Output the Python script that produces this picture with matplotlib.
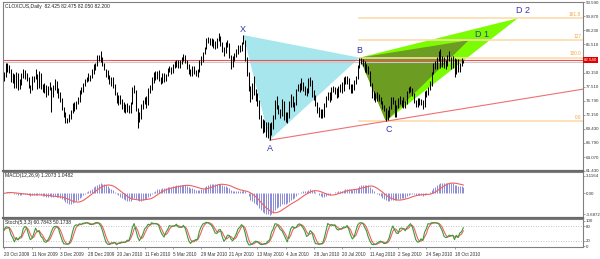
import numpy as np
import pandas as pd
import matplotlib
matplotlib.use("Agg")
import matplotlib.pyplot as plt
from matplotlib.transforms import blended_transform_factory

plt.rcParams["font.family"] = ["Liberation Sans", "DejaVu Sans"]

symbol = "CLOXCUS,Daily"
last_ohlc = "82.425 82.475 82.050 82.200"

# daily bars (one value per bar)
closes = [
    79.6, 81.4, 81.2, 80.5, 78.7, 79.6, 77.5, 79.9, 77.0, 78.1,
    79.6, 80.4, 79.6, 79.2, 77.5, 76.9, 79.2, 79.1, 79.6, 77.5,
    79.9, 77.5, 76.7, 77.6, 76.0, 77.2, 78.0, 76.1, 77.3, 78.4,
    76.6, 76.0, 75.0, 73.4, 72.4, 71.0, 70.8, 71.5, 72.7, 73.9,
    73.5, 74.4, 74.8, 76.7, 76.6, 78.0, 78.8, 78.9, 79.4, 79.4,
    80.5, 81.5, 81.8, 83.2, 82.7, 82.8, 81.9, 80.8, 79.7, 79.4,
    78.0, 79.0, 77.6, 76.0, 74.5, 75.3, 74.7, 73.7, 73.6, 72.9,
    73.5, 72.9, 74.4, 77.2, 76.9, 73.1, 71.2, 71.9, 73.8, 74.5,
    75.3, 74.1, 77.0, 77.3, 79.1, 79.1, 79.8, 80.2, 78.9, 78.2,
    79.7, 78.7, 79.7, 80.9, 80.9, 80.3, 81.5, 81.9, 82.1, 81.5,
    82.1, 82.9, 83.2, 82.3, 81.2, 80.3, 80.0, 81.0, 80.0, 79.9,
    80.5, 82.2, 82.4, 83.8, 84.9, 86.2, 86.6, 85.9, 86.2, 85.6,
    85.3, 86.5, 87.0, 85.8, 84.3, 84.0, 85.8, 85.5, 83.2, 82.0,
    82.5, 83.7, 83.9, 85.1, 84.2, 85.8, 86.2, 82.7, 80.0, 77.1,
    75.1, 76.8, 76.4, 75.7, 74.4, 71.6, 70.1, 69.4, 69.9, 68.0,
    70.0, 68.8, 70.2, 71.5, 74.6, 74.0, 72.6, 72.9, 74.6, 71.5,
    71.4, 71.9, 74.4, 75.5, 73.8, 74.1, 76.9, 77.7, 76.8, 77.8,
    77.2, 76.4, 76.5, 78.9, 78.3, 75.9, 75.6, 74.2, 73.0, 72.1,
    72.4, 72.0, 74.1, 75.4, 76.1, 74.9, 77.1, 77.0, 76.6, 76.0,
    77.0, 77.6, 76.8, 78.9, 78.6, 78.8, 77.5, 76.6, 77.3, 78.4,
    79.0, 81.3, 82.6, 82.5, 82.0, 80.7, 81.5, 80.3, 78.0, 75.7,
    75.4, 75.2, 75.8, 75.4, 74.4, 73.5, 73.1, 71.6, 72.5, 73.4,
    75.2, 74.7, 71.9, 73.9, 74.9, 74.6, 74.1, 74.7, 74.3, 76.5,
    77.2, 76.8, 76.0, 74.6, 73.7, 74.9, 74.2, 74.7, 73.5, 76.5,
    76.2, 77.2, 77.9, 80.0, 81.6, 81.5, 82.8, 83.2, 81.7, 82.7,
    81.9, 81.7, 83.0, 82.7, 81.3, 83.1, 79.8, 82.5, 80.6, 81.7,
    82.4, 82.2,
]
highs = [
    80.2, 82.0, 81.9, 81.6, 80.8, 80.0, 79.9, 80.3, 80.0, 78.9,
    80.0, 80.9, 80.6, 80.1, 79.4, 77.8, 79.5, 79.6, 80.8, 79.8,
    80.5, 80.0, 77.9, 78.2, 77.8, 77.6, 78.4, 77.5, 77.8, 78.9,
    78.6, 77.2, 76.4, 75.3, 73.6, 72.6, 71.6, 72.2, 73.0, 74.3,
    74.5, 74.8, 75.6, 76.9, 77.4, 78.2, 79.0, 79.4, 80.0, 79.7,
    80.8, 81.7, 82.0, 83.5, 83.5, 84.3, 83.2, 82.0, 80.9, 80.7,
    79.7, 79.3, 79.4, 77.9, 76.4, 75.9, 75.9, 75.1, 74.5, 74.2,
    74.3, 73.9, 74.6, 77.4, 77.8, 76.9, 73.4, 72.7, 74.2, 74.9,
    75.6, 75.7, 77.3, 77.8, 79.4, 80.2, 80.5, 80.5, 80.6, 79.3,
    80.0, 80.1, 79.9, 81.1, 81.5, 81.3, 81.7, 82.3, 82.6, 82.6,
    82.5, 83.2, 83.7, 83.5, 82.6, 81.8, 80.9, 81.5, 81.5, 80.6,
    80.9, 82.5, 83.3, 84.0, 85.0, 86.8, 87.0, 86.8, 86.7, 86.6,
    86.1, 86.8, 87.6, 87.2, 86.0, 85.0, 86.0, 86.3, 85.7, 83.5,
    83.4, 83.9, 84.7, 85.4, 85.5, 86.0, 87.3, 86.4, 83.2, 80.3,
    77.6, 78.2, 79.6, 77.0, 76.3, 74.9, 72.0, 71.3, 71.2, 70.8,
    70.8, 70.6, 70.8, 72.0, 74.9, 75.7, 74.0, 73.3, 75.1, 74.7,
    72.6, 72.6, 74.7, 76.0, 75.7, 74.5, 77.1, 78.0, 78.1, 79.2,
    78.4, 77.6, 77.2, 79.2, 79.4, 78.8, 76.8, 75.8, 74.6, 73.6,
    73.2, 73.2, 74.4, 75.7, 76.5, 76.4, 77.5, 77.6, 77.4, 77.2,
    77.6, 78.0, 78.3, 79.3, 79.5, 79.5, 79.1, 77.9, 77.9, 78.8,
    79.5, 81.6, 83.0, 82.9, 82.8, 82.3, 81.7, 81.5, 80.4, 78.2,
    76.6, 76.2, 76.4, 76.1, 75.6, 74.8, 74.0, 73.4, 73.0, 73.8,
    75.5, 75.6, 74.9, 74.0, 75.3, 75.7, 75.0, 75.5, 74.8, 76.6,
    77.4, 77.7, 77.2, 76.3, 75.0, 75.3, 75.4, 75.2, 74.9, 76.7,
    76.9, 77.5, 78.5, 80.2, 82.0, 82.3, 83.2, 84.2, 84.6, 83.3,
    83.2, 82.5, 83.5, 84.3, 83.1, 83.3, 83.0, 82.8, 82.7, 82.0,
    82.9, 82.5,
]
lows = [
    78.6, 79.3, 80.3, 80.0, 78.4, 78.2, 77.2, 77.3, 76.8, 77.0,
    77.8, 79.2, 79.0, 78.5, 77.2, 76.3, 76.8, 78.3, 78.9, 77.0,
    77.2, 77.1, 76.4, 76.3, 75.6, 75.8, 76.9, 72.6, 75.5, 76.9,
    76.2, 75.3, 74.6, 73.0, 71.7, 70.6, 70.5, 70.7, 71.3, 72.5,
    72.8, 73.2, 74.1, 74.5, 76.0, 76.5, 77.6, 78.3, 78.5, 78.6,
    79.2, 79.9, 80.6, 81.5, 82.4, 82.1, 81.4, 80.6, 79.4, 78.9,
    77.9, 77.7, 77.3, 75.8, 74.3, 74.0, 74.1, 73.3, 72.7, 72.4,
    72.7, 72.4, 72.5, 74.2, 76.3, 72.9, 69.6, 70.7, 71.3, 73.2,
    74.1, 73.4, 74.0, 76.2, 76.8, 78.2, 78.7, 79.0, 78.5, 77.9,
    78.2, 78.3, 78.5, 79.6, 80.2, 79.8, 80.0, 81.1, 81.2, 81.0,
    81.0, 81.7, 82.4, 82.0, 80.9, 79.9, 79.6, 79.5, 79.8, 79.5,
    79.4, 80.3, 81.6, 82.2, 83.6, 84.6, 85.8, 85.4, 85.2, 84.9,
    84.7, 84.8, 86.1, 85.2, 84.1, 83.3, 83.8, 85.0, 83.0, 80.9,
    81.2, 82.3, 83.1, 83.6, 84.0, 84.2, 85.6, 82.3, 79.6, 76.7,
    74.6, 75.2, 75.8, 74.8, 73.8, 71.3, 69.6, 68.6, 68.8, 67.9,
    67.8, 67.3, 68.2, 69.4, 71.3, 73.2, 72.2, 71.5, 71.9, 71.2,
    70.8, 70.6, 71.5, 73.6, 73.6, 72.9, 73.9, 76.6, 76.4, 76.9,
    76.7, 75.9, 75.7, 76.3, 77.6, 75.6, 75.0, 73.8, 72.5, 71.7,
    71.6, 71.5, 71.8, 73.7, 75.0, 74.5, 75.0, 76.4, 76.0, 75.3,
    75.6, 76.4, 76.2, 76.6, 78.0, 78.0, 77.0, 76.2, 76.3, 76.8,
    78.0, 78.9, 81.1, 81.8, 81.4, 80.2, 80.1, 79.9, 77.7, 75.4,
    75.0, 74.6, 74.8, 74.8, 74.1, 73.2, 72.8, 70.9, 71.2, 71.8,
    73.2, 74.2, 71.8, 71.7, 73.5, 74.1, 73.7, 73.5, 73.5, 74.2,
    76.2, 76.4, 75.7, 74.4, 73.6, 73.7, 73.9, 74.0, 73.3, 73.6,
    75.6, 75.8, 76.9, 77.7, 79.8, 80.9, 80.8, 82.4, 81.1, 81.2,
    81.0, 80.9, 81.4, 82.3, 80.9, 81.0, 79.4, 79.8, 80.3, 80.2,
    81.4, 82.0,
]

date_labels = ["20 Oct 2009", "11 Nov 2009", "3 Dec 2009", "28 Dec 2009",
               "20 Jan 2010", "11 Feb 2010", "5 Mar 2010", "29 Mar 2010",
               "21 Apr 2010", "13 May 2010", "4 Jun 2010", "28 Jun 2010",
               "20 Jul 2010", "11 Aug 2010", "2 Sep 2010", "24 Sep 2010",
               "18 Oct 2010"]
bars_per_label = 16

price_ticks = [61.43, 64.07, 66.79, 69.43, 72.15, 74.79, 77.51,
               80.15, 82.87, 85.51, 88.23, 90.87, 93.59]
hline_price = 82.54
bid_price = 82.2

# harmonic pattern points (bar index, price)
pattern_names = ["X", "A", "B", "C", "D 1", "D 2"]
pattern_bars = [136, 151, 202, 217, 264, 292]
pattern_prices = [87.3, 67.3, 83.0, 70.9, 86.3, 90.5]

fib_levels = [0.0, 100.0, 127.0, 161.8]
fib_names = ["0.0", "100.0", "127", "161.8"]

macd_ticks = [3.1164, 0.0, -3.6872]
macd_tick_labels = ["3.1164", "0.00", "-3.6872"]
stoch_ticks = [100, 80, 20, 0]

# indicators
c = pd.Series(closes)
h = pd.Series(highs)
l = pd.Series(lows)
macd = c.ewm(span=12, adjust=False).mean() - c.ewm(span=26, adjust=False).mean()
signal = macd.rolling(9, min_periods=1).mean()
ll = l.rolling(5, min_periods=1).min()
hh = h.rolling(5, min_periods=1).max()
k = 100 * (c - ll).rolling(3, min_periods=1).sum() / (hh - ll).rolling(3, min_periods=1).sum()
d = k.rolling(3, min_periods=1).mean()

idx = np.arange(len(closes))

W, H = 600, 259
def box(top, bottom, left=3, right=583):
    return [left / W, 1 - bottom / H, (right - left) / W, (bottom - top) / H]

fig = plt.figure(figsize=(6, 2.59), dpi=100)
ax = fig.add_axes(box(2, 171))
ax_m = fig.add_axes(box(172, 218), sharex=ax)
ax_s = fig.add_axes(box(219, 247), sharex=ax)

fs = 3.6
yfs = 3.2
grey = "#808080"
for a in (ax, ax_m, ax_s):
    for s in a.spines.values():
        s.set_color(grey)
        s.set_linewidth(0.8)
    a.yaxis.tick_right()
    a.tick_params(axis="y", labelsize=yfs, length=1.2, width=0.5, color=grey, pad=0.8, labelcolor="#333333")
    a.tick_params(axis="x", length=1.5, width=0.5, color=grey)
for a in (ax, ax_m):
    a.spines["bottom"].set_color("#6a6a6a")
    a.spines["bottom"].set_linewidth(1.6)
    plt.setp(a.get_xticklabels(), visible=False)

ax.set_xlim(-0.5, 329)
ax.set_ylim(61.43, 93.59)

# pattern fills (under the bars)
xb, pb = pattern_bars, pattern_prices
ax.fill([xb[0], xb[1], xb[2]], [pb[0], pb[1], pb[2]], color="#a6e6ec", lw=0, zorder=1)
ax.fill([xb[2], xb[5], xb[3]], [pb[2], pb[5], pb[3]], color="#7cfc00", lw=0, zorder=1)
ax.fill([xb[2], xb[4], xb[3]], [pb[2], pb[4], pb[3]], color="#6c9c22", lw=0, zorder=1.1)

# fibonacci extension lines from B
xr = ax.get_xlim()[1]
for lvl, name in zip(fib_levels, fib_names):
    p = pb[3] + (pb[2] - pb[3]) * lvl / 100
    ax.plot([xb[2], xr], [p, p], color="#fddcaa", lw=1.2, zorder=1.2)
    ax.text(xr - 1, p + 0.25, name, fontsize=3.4, color="#f0a848", ha="right", va="bottom")

# trend line from A through C
slope = (pb[3] - pb[1]) / (xb[3] - xb[1])
ax.plot([xb[1], xr], [pb[1], pb[1] + slope * (xr - xb[1])], color="#f07070", lw=0.8, zorder=1.3)

# horizontal lines
ax.axhline(bid_price, color="#c8c8c8", lw=0.8, zorder=1.2)
ax.axhline(hline_price, color="#f05050", lw=0.8, zorder=1.3)

ax.vlines(idx, lows, highs, color="black", lw=0.75, zorder=3)

offsets = [(0, 1), (0, -3), (0, 2), (2, -3), (10, 1), (4, 2)]
for name, xi, pi, off in zip(pattern_names, xb, pb, offsets):
    ax.annotate(name, (xi, pi), xytext=off, textcoords="offset points",
                ha="center", va="bottom" if off[1] > 0 else "top",
                fontsize=6.5, color="#3535b0", zorder=4)

# the 82.870 label sits under the red price box
ax.set_yticks(price_ticks)
ax.set_yticklabels(["" if abs(t - hline_price) < 1 else "%.3f" % t for t in price_ticks])
tr = blended_transform_factory(ax.transAxes, ax.transData)
ax.text(1.002, hline_price, "%.3f" % hline_price, transform=tr, fontsize=yfs,
        color="white", va="center", ha="left",
        bbox=dict(boxstyle="square,pad=0.2", fc="#e00000", ec="none"), zorder=5)
ax.text(0.004, 0.99, symbol + "  " + last_ohlc, transform=ax.transAxes,
        fontsize=fs, va="top", ha="left", color="#222222")

# MACD
ax_m.vlines(idx, 0, macd, color="#8c8cd8", lw=0.7)
ax_m.plot(idx, signal, color="#f06060", lw=0.8)
ax_m.set_ylim(-4.403, 3.832)
ax_m.set_yticks(macd_ticks)
ax_m.set_yticklabels(macd_tick_labels)
ax_m.text(0.004, 0.97, "MACD(12,26,9) 1.2073 1.0482", transform=ax_m.transAxes,
          fontsize=fs, va="top", ha="left", color="#222222")

# Stochastic
ax_s.axhline(80, color="#b0b0b0", lw=0.6, ls=(0, (1, 2)))
ax_s.axhline(20, color="#b0b0b0", lw=0.6, ls=(0, (1, 2)))
ax_s.plot(idx, d, color="#f06060", lw=0.8)
ax_s.plot(idx, k, color="#3a9a3a", lw=0.8)
ax_s.set_ylim(-4, 108)
ax_s.set_yticks(stoch_ticks)
ax_s.set_yticklabels([str(t) for t in stoch_ticks])
ax_s.text(0.004, 0.96, "Stoch(5,3,3) 60.7843 50.1738", transform=ax_s.transAxes,
          fontsize=fs, va="top", ha="left", color="#222222")

ticks = [i * bars_per_label for i in range(len(date_labels))]
ax_s.set_xticks(ticks)
ax_s.set_xticklabels(date_labels, ha="left", fontsize=3.3, color="#333333")
ax_s.tick_params(axis="x", pad=2)

fig.savefig("out.png", dpi=100, facecolor="white")
